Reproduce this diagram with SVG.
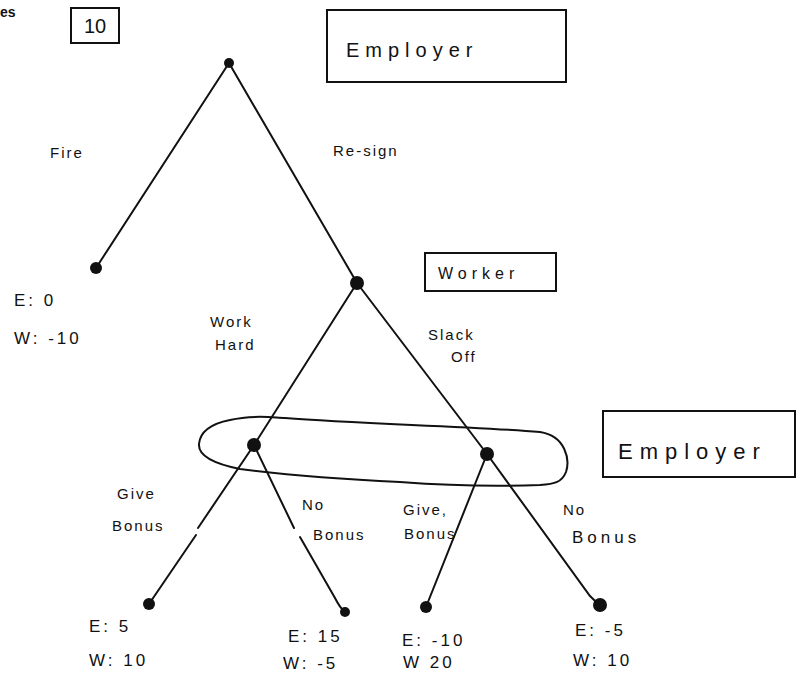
<svg xmlns="http://www.w3.org/2000/svg" width="798" height="673" viewBox="0 0 798 673">
<style>
.t{font-family:"Liberation Sans",Arial,sans-serif;fill:#111;}
.lbl{font-size:15px;letter-spacing:2px;}
.pay{font-size:17px;letter-spacing:3px;}
.box{fill:none;stroke:#111;stroke-width:2;}
.edge{fill:none;stroke:#111;stroke-width:2;stroke-linecap:round;}
.dot{fill:#111;}
</style>
<rect width="798" height="673" fill="#fff"/>
<text class="t" x="0" y="17" font-size="14" font-weight="bold">es</text>
<g id="stage-box"><rect class="box" x="71" y="8" width="48" height="35"/><text class="t" x="95" y="33" font-size="20" text-anchor="middle">10</text></g>
<g id="employer-label-top"><rect class="box" x="327" y="10" width="239" height="72"/><text class="t" x="346" y="57" font-size="20" letter-spacing="6">Employer</text></g>
<g id="worker-label"><rect class="box" x="425" y="253" width="131" height="38"/><text class="t" x="438" y="279" font-size="16" letter-spacing="5">Worker</text></g>
<g id="employer-label-bottom"><rect class="box" x="603" y="411" width="192" height="66"/><text class="t" x="618" y="459" font-size="22" letter-spacing="7">Employer</text></g>
<g id="connectors">
<path class="edge" d="M229,63 L96,268"/>
<path class="edge" d="M229,63 L357,283"/>
<path class="edge" d="M357,283 L254,445"/>
<path class="edge" d="M357,283 L487,454"/>
<path class="edge" d="M254,445 L198,528 M196,535 L149,604"/>
<path class="edge" d="M254,445 L294,528 M300,537 L335,598 Q340,608 345,612"/>
<path class="edge" d="M487,454 L426,607"/>
<path class="edge" d="M487,454 L590,596 Q596,602 600,605"/>
<path class="edge" d="M230,420 C255,414 275,418 285,418 C360,424 470,426 540,432 C566,436 570,460 566,472 C562,482 555,484 540,485 C490,487 440,485 400,482 C340,479 280,474 240,469 C215,464 198,456 199,444 C200,432 210,424 230,420"/>
</g>
<g id="root"><circle class="dot" cx="229" cy="63" r="5"/></g>
<g id="fire-leaf"><circle class="dot" cx="96" cy="268" r="6"/><text class="t pay" x="14" y="306">E:  0</text><text class="t pay" x="14" y="344">W: -10</text></g>
<g id="worker-node"><circle class="dot" cx="357" cy="283" r="7"/></g>
<g id="employer-node-left"><circle class="dot" cx="254" cy="445" r="7"/></g>
<g id="employer-node-right"><circle class="dot" cx="487" cy="454" r="7"/></g>
<g id="leaf-1"><circle class="dot" cx="149" cy="604" r="6"/><text class="t pay" x="89" y="632">E:  5</text><text class="t pay" x="89" y="666">W: 10</text></g>
<g id="leaf-2"><circle class="dot" cx="345" cy="612" r="5"/><text class="t pay" x="288" y="642">E: 15</text><text class="t pay" x="283" y="669">W: -5</text></g>
<g id="leaf-3"><circle class="dot" cx="426" cy="607" r="6"/><text class="t pay" x="402" y="646">E: -10</text><text class="t pay" x="403" y="668">W  20</text></g>
<g id="leaf-4"><circle class="dot" cx="600" cy="605" r="7"/><text class="t pay" x="575" y="636">E: -5</text><text class="t pay" x="573" y="666">W: 10</text></g>
<g id="edge-labels">
<text class="t lbl" x="50" y="158">Fire</text>
<text class="t lbl" x="333" y="156">Re-sign</text>
<text class="t lbl" x="210" y="327">Work</text>
<text class="t lbl" x="215" y="350">Hard</text>
<text class="t lbl" x="428" y="340">Slack</text>
<text class="t lbl" x="451" y="362">Off</text>
<text class="t lbl" x="117" y="499">Give</text>
<text class="t lbl" x="112" y="531">Bonus</text>
<text class="t lbl" x="302" y="510">No</text>
<text class="t lbl" x="313" y="540">Bonus</text>
<text class="t lbl" x="403" y="515">Give,</text>
<text class="t lbl" x="404" y="539">Bonus</text>
<text class="t lbl" x="563" y="515">No</text>
<text class="t" x="572" y="543" font-size="17" letter-spacing="4">Bonus</text>
</g>
</svg>
